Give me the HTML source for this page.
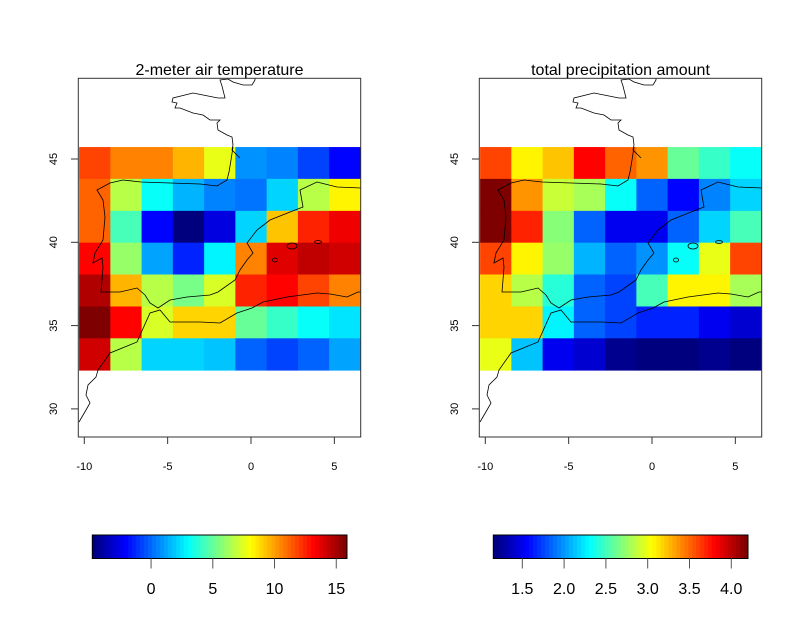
<!DOCTYPE html>
<html><head><meta charset="utf-8"><title>Temperature and precipitation maps</title>
<style>
body{margin:0;background:#fff;}
svg{display:block;font-family:"Liberation Sans",Arial,sans-serif;}
</style></head>
<body>
<svg id="fig" width="802" height="618" viewBox="0 0 802 618" xmlns="http://www.w3.org/2000/svg"></svg>
<script>
// ---- data ----
const lonCenters = [-9.375,-7.5,-5.625,-3.75,-1.875,0,1.875,3.75,5.625];
const latCenters = [44.76,42.85,40.93,39.02,37.11,35.19,33.28];
const tempValues = [
 [11.74,10.71,10.71,9.47,7.62,0.81,0.40,-0.63,-2.08],
 [11.33,6.59,2.98,1.43,0.40,0.19,2.05,6.59,8.44],
 [11.33,4.32,-1.87,-4.76,-2.70,2.05,9.27,12.57,13.6],
 [12.98,5.97,1.22,-1.25,2.67,10.51,13.81,14.43,14.22],
 [14.84,9.47,6.59,5.35,7.21,12.57,12.98,11.74,10.51],
 [15.87,13.19,7.21,8.86,8.86,5.14,4.11,2.98,2.46],
 [14.22,6.79,2.05,2.05,1.84,-0.22,-0.63,-0.01,1.22]
];
const precipValues = [
 [3.59,3.06,3.23,3.78,3.50,3.38,2.62,2.46,2.30],
 [4.20,3.38,2.89,2.80,2.30,1.82,1.55,1.92,2.16],
 [4.20,3.69,2.68,1.82,1.53,1.53,1.82,2.16,2.49],
 [3.59,3.06,2.74,2.10,1.82,1.98,2.31,2.98,3.59],
 [3.20,2.86,2.40,1.85,1.76,2.49,3.06,3.06,2.80],
 [3.17,3.17,2.25,1.82,1.76,1.67,1.64,1.49,1.43],
 [2.98,2.13,1.53,1.40,1.21,1.18,1.18,1.21,1.153]
];
const lonTicks = [-10,-5,0,5];
const latTicks = [30,35,40,45];
const tempBarTicks = [0,5,10,15];
const precipBarTicks = ["1.5","2.0","2.5","3.0","3.5","4.0"];

const NS="http://www.w3.org/2000/svg";
const svg=document.getElementById('fig');
function mk(tag,attrs,parent){const e=document.createElementNS(NS,tag);for(const k in attrs)e.setAttribute(k,attrs[k]);(parent||svg).appendChild(e);return e;}

// jet palette (64)
const stops=[[0,0,127],[0,0,255],[0,127,255],[0,255,255],[127,255,127],[255,255,0],[255,127,0],[255,0,0],[127,0,0]];
const NCOL=64;
const pal=[];
for(let k=0;k<NCOL;k++){const t=k/(NCOL-1)*8;const i=Math.min(7,Math.floor(t));const f=t-i;
 const c=stops[i].map((v,j)=>Math.round(v+(stops[i+1][j]-v)*f));pal.push(`rgb(${c[0]},${c[1]},${c[2]})`);}
function colorOf(v,mn,mx){let idx=Math.floor((v-mn)/(mx-mn)*NCOL);idx=Math.max(0,Math.min(NCOL-1,idx));return pal[idx];}

const dLon=1.875, dLat=1.914;
function xScale(lon,off){return off+84.3+(lon+10)*16.67;}
function yScale(lat){return 242.3-(lat-40)*16.66;}

function px2ll(p){return [(p[0]-84.3)/16.67-10, 40-(p[1]-242.3)/16.66];}
const coastPx=[
 [[255,78],[255,80],[252,85],[243,85],[233,82],[228,79],[220,80],[222,86],[225,98],[218,98],[203,95],[193,93],[173,98],[172,102],[177,103],[175,108],[180,108],[193,113],[203,115],[210,120],[220,120],[217,123],[218,130],[227,135],[232,137],[233,145],[232,150],[236,154],[240,158]],
 [[233,147],[231,160],[229,172],[227,180],[217,186],[200,184],[170,183],[141,182],[123,180],[110,183],[97,190],[103,200],[105,217],[103,240],[95,253],[93,263],[102,258],[103,267],[102,280],[101,292],[120,292],[137,288],[145,295],[150,303],[158,308],[170,300],[187,297],[210,295],[218,292],[235,280],[240,270],[247,260],[253,253],[247,243],[257,230],[270,220],[290,212],[303,207],[300,190],[317,182],[337,187],[361,188]],
 [[79,422],[86,410],[90,403],[86,395],[88,385],[96,377],[98,370],[110,353],[137,342],[150,313],[160,310],[170,322],[200,322],[220,323],[237,313],[252,308],[263,302],[287,297],[317,293],[330,294],[347,297],[358,292],[361,292]]
];
const coast=coastPx.map(seg=>seg.map(px2ll));
const islands=[[292,246,5,3],[318,242,3.5,1.5],[275,260,2.5,2]].map(i=>[px2ll([i[0],i[1]]),i[2],i[3]]);

function panel(off,title,values,name){
 const g=mk('g',{});
 let mn=Infinity,mx=-Infinity;values.forEach(r=>r.forEach(v=>{mn=Math.min(mn,v);mx=Math.max(mx,v);}));
 const cells=mk('g',{},g);
 
 
 values.forEach((row,j)=>row.forEach((v,i)=>{
  const x0=xScale(lonCenters[i]-dLon/2,off),x1=xScale(lonCenters[i]+dLon/2,off);
  const y0=yScale(latCenters[j]+dLat/2),y1=yScale(latCenters[j]-dLat/2);
  const r=mk('rect',{x:x0,y:y0,width:x1-x0+0.4,height:y1-y0+0.4,fill:colorOf(v,mn,mx)},cells);
  
  
 }));
 const cg=mk('g',{fill:'none',stroke:'#000','stroke-width':0.8},g);
 
 
 coast.forEach(seg=>{mk('polyline',{points:seg.map(p=>xScale(p[0],off)+','+yScale(p[1])).join(' ')},cg);});
 islands.forEach(s=>{mk('ellipse',{cx:xScale(s[0][0],off),cy:yScale(s[0][1]),rx:s[1],ry:s[2]},cg);});
 const box=mk('rect',{x:off+78.3,y:78.3,width:282.4,height:358.7,fill:'none',stroke:'#333','stroke-width':1},g);
 
 
 const t=mk('text',{x:off+219.5,y:75,'text-anchor':'middle','font-size':16,fill:'#000'},g);
 t.textContent=title;
 
 
 lonTicks.forEach(v=>{const x=xScale(v,off);
  mk('line',{x1:x,x2:x,y1:437,y2:444,stroke:'#333'},g);
  const l=mk('text',{x:x,y:470,'text-anchor':'middle','font-size':11},g);l.textContent=v;
  
  });
 latTicks.forEach(v=>{const y=yScale(v);
  mk('line',{x1:off+71,x2:off+78.3,y1:y,y2:y,stroke:'#333'},g);
  const l=mk('text',{x:0,y:0,'text-anchor':'middle','font-size':11,transform:`translate(${off+57},${y}) rotate(-90)`},g);l.textContent=v;
  
  });
 return [mn,mx];
}

function colorbar(off,mn,mx,ticks,name){
 const g=mk('g',{},svg);
 
 
 const bx0=off+92.3,bw=254.7,by=535,bh=23.5;
 const sc=v=>bx0+(v-mn)/(mx-mn)*bw;
 for(let k=0;k<NCOL;k++){mk('rect',{x:bx0+k*bw/NCOL,y:by,width:bw/NCOL+0.5,height:bh,fill:pal[k]},g);}
 mk('rect',{x:bx0,y:by,width:bw,height:bh,fill:'none',stroke:'#000'},g);
 ticks.forEach(tv=>{const x=sc(parseFloat(tv));
  mk('line',{x1:x,x2:x,y1:by+bh,y2:by+bh+10,stroke:'#555'},g);
  const l=mk('text',{x:x,y:594,'text-anchor':'middle','font-size':16},g);l.textContent=tv;
  
  });
}

const [tmn,tmx]=panel(0,'2-meter air temperature',tempValues,'temperature-panel');
const [pmn,pmx]=panel(401,'total precipitation amount',precipValues,'precipitation-panel');
colorbar(0,tmn,tmx,tempBarTicks,'temperature-colorbar');
colorbar(401,pmn,pmx,precipBarTicks,'precipitation-colorbar');
</script>
</body></html>
